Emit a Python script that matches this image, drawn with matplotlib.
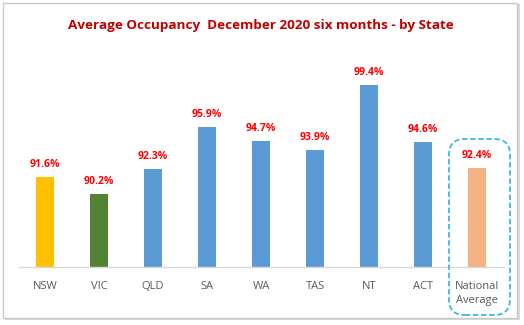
import matplotlib
matplotlib.use("Agg")
import matplotlib.pyplot as plt
from matplotlib.patches import FancyBboxPatch, Rectangle

categories = ["NSW", "VIC", "QLD", "SA", "WA", "TAS", "NT", "ACT", "National\nAverage"]
values = [91.6, 90.2, 92.3, 95.9, 94.7, 93.9, 99.4, 94.6, 92.4]
colors = ["#FFC000", "#548235", "#5B9BD5", "#5B9BD5", "#5B9BD5", "#5B9BD5",
          "#5B9BD5", "#5B9BD5", "#F4B183"]
title = "Average Occupancy  December 2020 six months - by State"

plt.rcParams['font.family'] = ['Open Sans', 'DejaVu Sans']

W, H = 524, 325
fig = plt.figure(figsize=(W / 100, H / 100), dpi=100)
fig.patch.set_facecolor("white")

# outer frame with shadow
fig.add_artist(Rectangle((5 / W, 1 - 320 / H), 515 / W, 316 / H, transform=fig.transFigure,
                         facecolor="#d9d9d9", edgecolor="none", zorder=0))
fig.add_artist(Rectangle((3 / W, 1 - 318 / H), 514 / W, 315 / H, transform=fig.transFigure,
                         facecolor="white", edgecolor="#c8c8c8", lw=1, zorder=0))

ax = fig.add_axes([18 / W, 1 - 267 / H, 486 / W, (267 - 66.4) / H])
ax.set_facecolor("none")
x = list(range(len(categories)))
bars = ax.bar(x, [v - 84 for v in values], bottom=84, width=0.34, color=colors, zorder=2)
ax.set_xlim(-0.5, len(categories) - 0.5)
ax.set_ylim(84, 101)
for xi, v in zip(x, values):
    ax.text(xi, v + 0.6, f"{v:.1f}%", ha="center", va="bottom", color="#FF0000",
            fontsize=7.5, fontweight="bold")
ax.set_xticks(x)
ax.set_xticklabels(categories, color="#595959", fontsize=8, linespacing=1.45)
ax.tick_params(axis="x", length=0, pad=10)
ax.set_yticks([])
for s in ["top", "right", "left"]:
    ax.spines[s].set_visible(False)
ax.spines["bottom"].set_color("#d9d9d9")
ax.spines["bottom"].set_linewidth(1)

fig.text(0.497, 1 - 25 / H, title, ha="center", va="center", color="#C00000",
         fontsize=9.7, fontweight="bold")

# dashed rounded box around national average
fig.add_artist(FancyBboxPatch((449 / W, 1 - 315 / H), 61 / W, 176 / H,
                              boxstyle="round,pad=0,rounding_size=0.03",
                              transform=fig.transFigure, facecolor="none",
                              edgecolor="#3DB5E8", lw=1.3, linestyle=(0, (3, 1.5)),
                              zorder=5, mutation_aspect=W / H))

fig.savefig("out.png", dpi=100)
